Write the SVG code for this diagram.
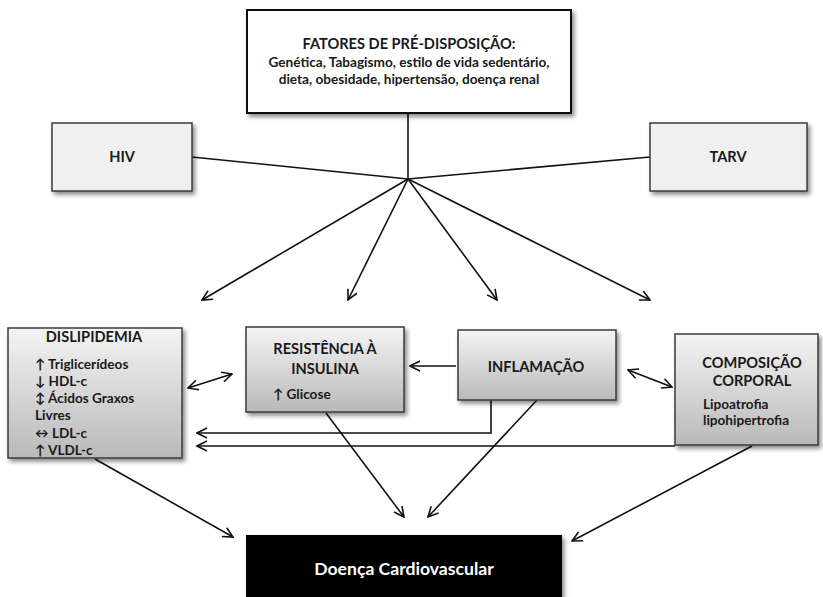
<svg xmlns="http://www.w3.org/2000/svg" width="823" height="597" viewBox="0 0 823 597">
<defs>
<linearGradient id="g" x1="0" y1="0" x2="0" y2="1">
<stop offset="0" stop-color="#f4f4f4"/>
<stop offset="1" stop-color="#b9b9b9"/>
</linearGradient>
<filter id="sh" x="-10%" y="-10%" width="125%" height="130%">
<feDropShadow dx="2.5" dy="3" stdDeviation="2" flood-color="#000" flood-opacity="0.45"/>
</filter>
<marker id="ah" viewBox="0 0 12 12" refX="11" refY="6" markerWidth="12" markerHeight="12" markerUnits="userSpaceOnUse" orient="auto-start-reverse">
<path d="M1,1 L11,6 L1,11" fill="none" stroke="#111" stroke-width="1.6"/>
</marker>
<style>
text{font-family:Lato,"Liberation Sans",sans-serif;font-weight:bold;fill:#1a1a1a}
.t{font-size:14.6px}
.b{font-size:13.6px}
.c{text-anchor:middle}
.gbox{fill:url(#g);stroke:#3a3a3a;stroke-width:1.5;filter:url(#sh)}
.lbox{fill:#f0f0f0;stroke:#3a3a3a;stroke-width:1.5;filter:url(#sh)}
.ln{fill:none;stroke:#111;stroke-width:1.6}
.ar{marker-end:url(#ah)}
.dar{marker-start:url(#ah);marker-end:url(#ah)}
</style>
</defs>
<rect width="823" height="597" fill="#fff"/>

<g id="connectors">
<line class="ln" x1="408" y1="113" x2="408" y2="179"/>
<line class="ln" x1="192" y1="157" x2="408" y2="179"/>
<line class="ln" x1="650" y1="157" x2="408" y2="179"/>
<line class="ln ar" x1="408" y1="179" x2="202" y2="300"/>
<line class="ln ar" x1="408" y1="179" x2="348" y2="300"/>
<line class="ln ar" x1="408" y1="179" x2="497" y2="300"/>
<line class="ln ar" x1="408" y1="179" x2="650" y2="300"/>
<line class="ln dar" x1="188" y1="388" x2="232" y2="374"/>
<line class="ln dar" x1="628" y1="370" x2="672" y2="387"/>
<line class="ln ar" x1="456" y1="366" x2="410" y2="366"/>
<polyline class="ln ar" points="491,400 491,433 197,433"/>
<polyline class="ln ar" points="675,446 197,446"/>
<line class="ln ar" x1="95" y1="459" x2="233" y2="537"/>
<line class="ln ar" x1="326" y1="413" x2="404" y2="517"/>
<line class="ln ar" x1="537" y1="400" x2="428" y2="517"/>
<line class="ln ar" x1="752" y1="446" x2="572" y2="541"/>
</g>

<g id="fatores">
<rect x="247" y="10" width="324" height="103" fill="#fff" stroke="#111" stroke-width="2" filter="url(#sh)"/>
<text class="t c" x="409" y="49">FATORES DE PRÉ-DISPOSIÇÃO:</text>
<text class="b c" x="409" y="67">Genética, Tabagismo, estilo de vida sedentário,</text>
<text class="b c" x="409" y="84">dieta, obesidade, hipertensão, doença renal</text>
</g>

<g id="hiv">
<rect class="lbox" x="52" y="123" width="140" height="68"/>
<text class="t c" x="122" y="162">HIV</text>
</g>

<g id="tarv">
<rect class="lbox" x="650" y="123" width="157" height="68"/>
<text class="t c" x="728" y="162">TARV</text>
</g>

<g id="dislipidemia">
<rect class="gbox" x="8" y="328" width="174" height="130"/>
<text class="t c" x="94" y="342">DISLIPIDEMIA</text>
<text class="b" x="35" y="369">↑ Triglicerídeos</text>
<text class="b" x="35" y="386">↓ HDL-c</text>
<text class="b" x="35" y="403">↕ Ácidos Graxos</text>
<text class="b" x="35" y="420">Livres</text>
<text class="b" x="35" y="438">↔ LDL-c</text>
<text class="b" x="35" y="455">↑ VLDL-c</text>
</g>

<g id="resistencia">
<rect class="gbox" x="246" y="327" width="158" height="85"/>
<text class="t c" x="325" y="354">RESISTÊNCIA À</text>
<text class="t c" x="325" y="374">INSULINA</text>
<text class="b" x="273" y="399">↑ Glicose</text>
</g>

<g id="inflamacao">
<rect class="gbox" x="458" y="330" width="158" height="70"/>
<text class="t c" x="536" y="372">INFLAMAÇÃO</text>
</g>

<g id="composicao">
<rect class="gbox" x="675" y="334" width="143" height="111"/>
<text class="t c" x="752" y="368">COMPOSIÇÃO</text>
<text class="t c" x="752" y="386">CORPORAL</text>
<text class="b" x="703" y="409">Lipoatrofia</text>
<text class="b" x="703" y="425">lipohipertrofia</text>
</g>

<g id="doenca">
<rect x="246" y="535" width="316" height="64" fill="#000" filter="url(#sh)"/>
<text x="404" y="575" class="c" style="font-size:17.6px;fill:#fff">Doença Cardiovascular</text>
</g>
</svg>
